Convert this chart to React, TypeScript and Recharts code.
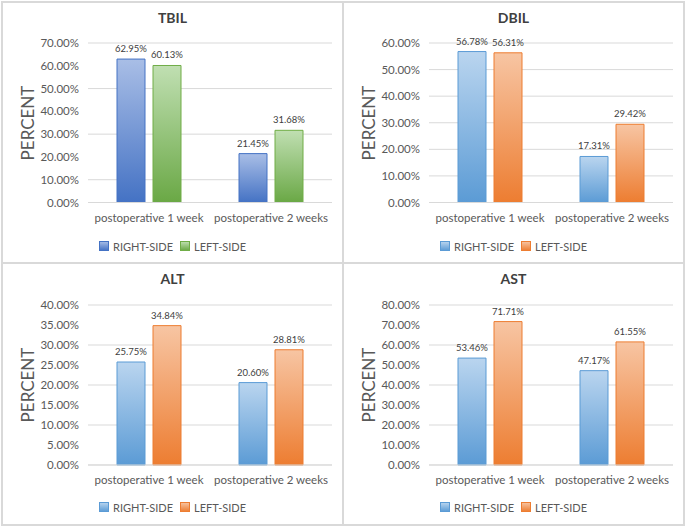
import React from "react";
import { BarChart, Bar, XAxis, YAxis, CartesianGrid, LabelList } from "recharts";

const categories = ["postoperative 1 week", "postoperative  2 weeks"];
const seriesNames = ["RIGHT-SIDE", "LEFT-SIDE"];

const tbilRight = [62.95, 21.45];
const tbilLeft = [60.13, 31.68];
const dbilRight = [56.78, 17.31];
const dbilLeft = [56.31, 29.42];
const altRight = [25.75, 20.6];
const altLeft = [34.84, 28.81];
const astRight = [53.46, 47.17];
const astLeft = [71.71, 61.55];

const tbilTicks = [0, 10, 20, 30, 40, 50, 60, 70];
const dbilTicks = [0, 10, 20, 30, 40, 50, 60];
const altTicks = [0, 5, 10, 15, 20, 25, 30, 35, 40];
const astTicks = [0, 10, 20, 30, 40, 50, 60, 70, 80];

const FONT = "Lato, 'Open Sans', sans-serif";
const GRID = "#d9d9d9";
const TEXT = "#595959";

type Swatch = { top: string; bottom: string; stroke: string };

const royal: Swatch = { top: "#a9bee6", bottom: "#4472c4", stroke: "#4472c4" };
const green: Swatch = { top: "#c0dfb2", bottom: "#6aa845", stroke: "#70ad47" };
const sky: Swatch = { top: "#bad5ef", bottom: "#5b9bd5", stroke: "#5b9bd5" };
const orange: Swatch = { top: "#f7c5a3", bottom: "#ed7d31", stroke: "#ed7d31" };

const pct = (v: number) => `${v.toFixed(2)}%`;

function Grad({ id, c }: { id: string; c: Swatch }) {
    return (
        <linearGradient id={id} x1="0" y1="0" x2="0" y2="1">
            <stop offset="0%" stopColor={c.top} />
            <stop offset="100%" stopColor={c.bottom} />
        </linearGradient>
    );
}

interface PanelProps {
    id: string;
    title: string;
    right: number[];
    left: number[];
    ticks: number[];
    colors: [Swatch, Swatch];
    x: number;
    y: number;
    top: number;
    bottom: number;
}

function Panel({ id, title, right, left, ticks, colors, x, y, top, bottom }: PanelProps) {
    const data = categories.map((name, i) => ({ name, right: right[i], left: left[i] }));
    const w = 339;
    const h = 260;

    return (
        <div
            style={{
                position: "absolute",
                left: x,
                top: y,
                width: w + 4,
                height: h + 4,
                border: `2px solid ${GRID}`,
                boxSizing: "border-box",
                background: "#fff",
            }}
        >
            <div
                style={{
                    position: "absolute",
                    top: 6,
                    width: "100%",
                    textAlign: "center",
                    fontSize: 14,
                    lineHeight: "18px",
                    fontWeight: 700,
                    color: "#404040",
                }}
            >
                {title}
            </div>
            <div
                style={{
                    position: "absolute",
                    left: 24,
                    top: (top + (h - bottom - 30)) / 2,
                    transform: "translate(-50%, -50%) rotate(-90deg)",
                    fontSize: 17,
                    color: TEXT,
                    whiteSpace: "nowrap",
                }}
            >
                PERCENT
            </div>
            <BarChart
                width={w}
                height={h}
                data={data}
                margin={{ top, right: 10, left: 25, bottom }}
                barSize={28}
                barGap={8}
            >
                <defs>
                    <Grad id={`${id}-r`} c={colors[0]} />
                    <Grad id={`${id}-l`} c={colors[1]} />
                </defs>
                <CartesianGrid vertical={false} stroke={GRID} />
                <XAxis
                    dataKey="name"
                    axisLine={{ stroke: GRID }}
                    tickLine={false}
                    tickMargin={5}
                    interval={0}
                    tick={{ fontSize: 11.5, fill: TEXT, fontFamily: FONT }}
                />
                <YAxis
                    width={60}
                    domain={[ticks[0], ticks[ticks.length - 1]]}
                    ticks={ticks}
                    axisLine={false}
                    tickLine={false}
                    tickMargin={3}
                    tickFormatter={pct}
                    tick={{ fontSize: 11.5, fill: TEXT, fontFamily: FONT }}
                />
                <Bar dataKey="right" fill={`url(#${id}-r)`} stroke={colors[0].stroke} isAnimationActive={false}>
                    <LabelList dataKey="right" position="top" offset={7} formatter={pct} style={{ fontSize: 9.5, fill: "#404040", fontFamily: FONT }} />
                </Bar>
                <Bar dataKey="left" fill={`url(#${id}-l)`} stroke={colors[1].stroke} isAnimationActive={false}>
                    <LabelList dataKey="left" position="top" offset={7} formatter={pct} style={{ fontSize: 9.5, fill: "#404040", fontFamily: FONT }} />
                </Bar>
            </BarChart>
            <div
                style={{
                    position: "absolute",
                    top: 236,
                    width: "100%",
                    height: 14,
                    display: "flex",
                    justifyContent: "center",
                    alignItems: "center",
                    fontSize: 11,
                    color: TEXT,
                }}
            >
                {seriesNames.map((s, i) => (
                    <span key={s} style={{ display: "flex", alignItems: "center", marginRight: i === 0 ? 7 : 0 }}>
                        <svg width={10} height={10} style={{ marginRight: 4 }}>
                            <defs>
                                <Grad id={`${id}-lg${i}`} c={colors[i]} />
                            </defs>
                            <rect x={0.5} y={0.5} width={9} height={9} fill={`url(#${id}-lg${i})`} stroke={colors[i].stroke} />
                        </svg>
                        {s}
                    </span>
                ))}
            </div>
        </div>
    );
}

export default function App() {
    return (
        <div
            style={{
                position: "absolute",
                left: 0,
                top: 0,
                width: 685,
                height: 527,
                background: "#fff",
                fontFamily: FONT,
            }}
        >
            <Panel id="tbil" title="TBIL" right={tbilRight} left={tbilLeft} ticks={tbilTicks} colors={[royal, green]} x={1} y={1} top={40} bottom={30.5} />
            <Panel id="dbil" title="DBIL" right={dbilRight} left={dbilLeft} ticks={dbilTicks} colors={[sky, orange]} x={342} y={1} top={40} bottom={30.5} />
            <Panel id="alt" title="ALT" right={altRight} left={altLeft} ticks={altTicks} colors={[sky, orange]} x={1} y={262} top={41} bottom={29} />
            <Panel id="ast" title="AST" right={astRight} left={astLeft} ticks={astTicks} colors={[sky, orange]} x={342} y={262} top={41} bottom={29} />
        </div>
    );
}
